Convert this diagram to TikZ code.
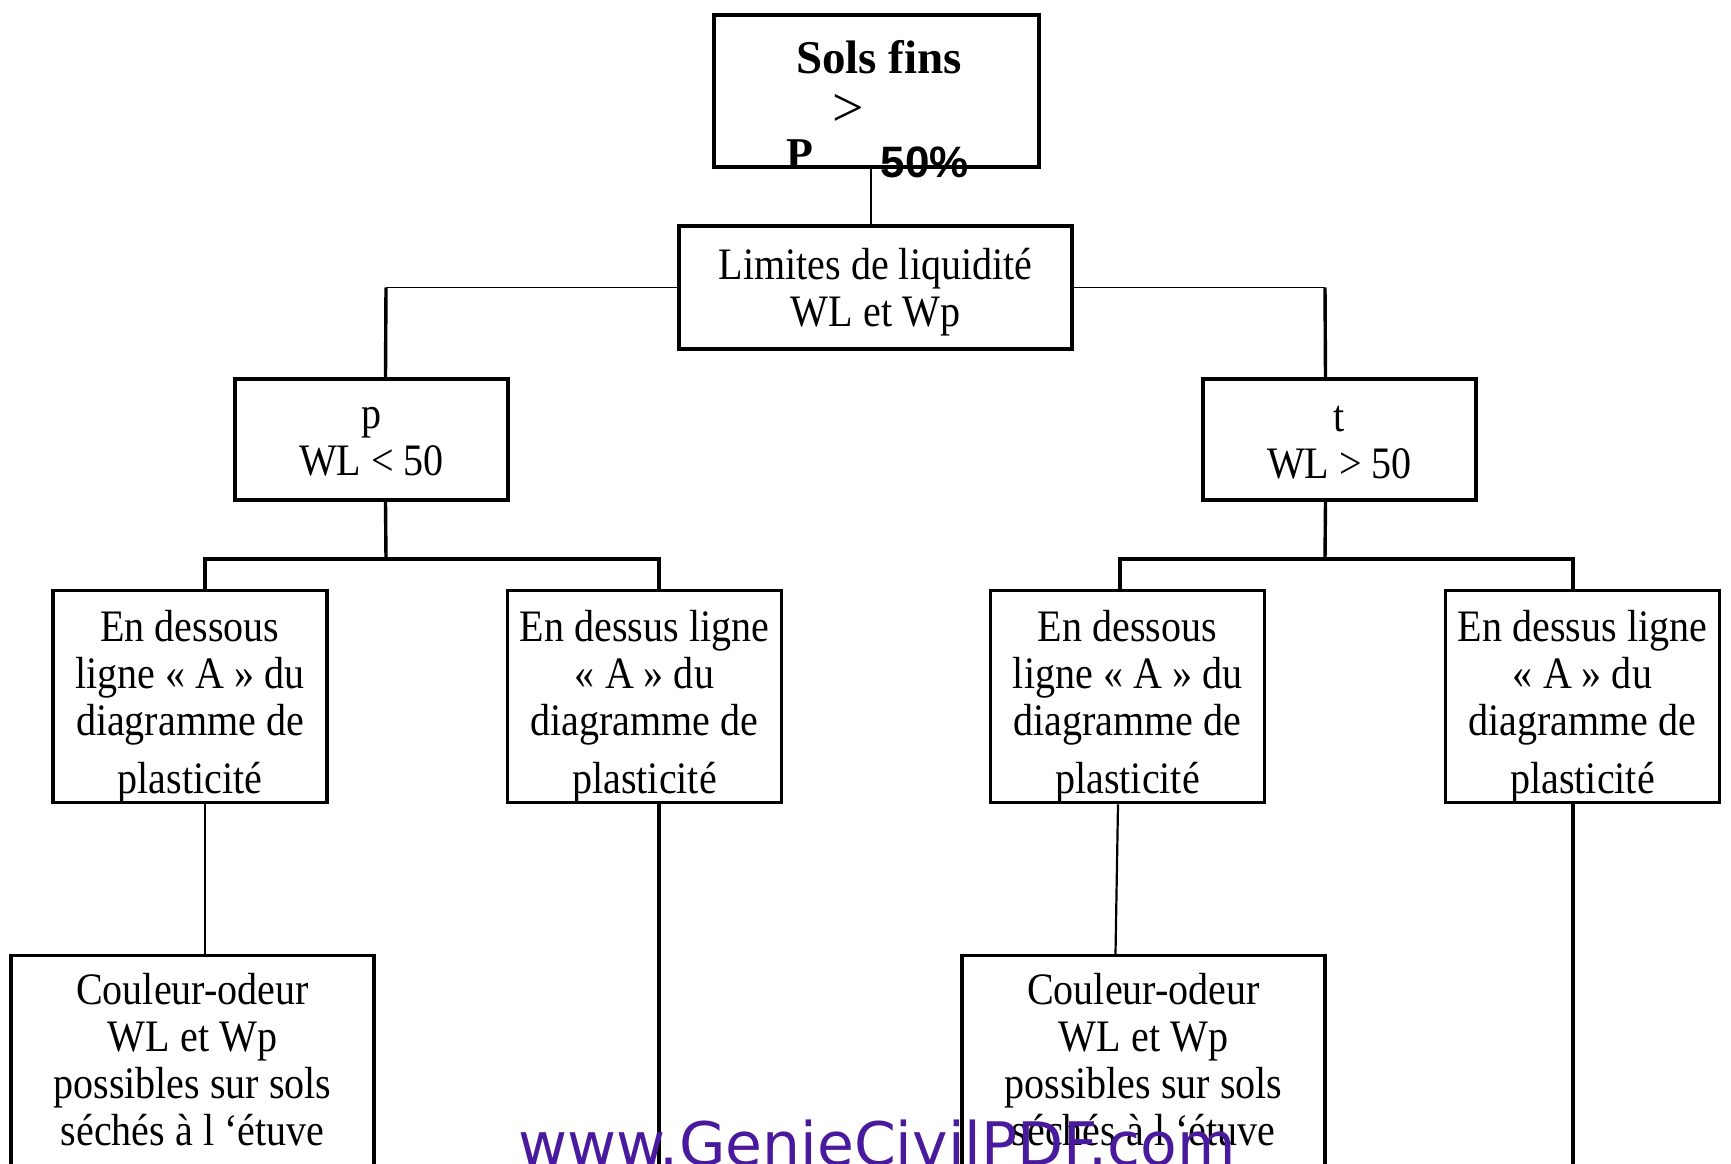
\documentclass[tikz,border=0pt]{standalone}
\usepackage{fontspec}
\setmainfont{Liberation Serif}[FakeStretch=0.89]
\newfontfamily\titlefont{Liberation Serif}
\newfontfamily\pctfont{Liberation Sans}
\newfontfamily\wmfont{DejaVu Sans}
\usetikzlibrary{calc}
\definecolor{wmcolor}{RGB}{74,26,158}

\tikzset{
  box/.style={draw, line width=1.6pt, inner sep=0pt, align=center},
  thinline/.style={line width=0.8pt},
  midline/.style={line width=1.1pt},
  thickline/.style={line width=1.7pt}
}
% strut to lower the first line of a box
\newcommand{\firstline}[1]{\rule{0pt}{#1}}

\begin{document}
\begin{tikzpicture}[x=0.5pt, y=-0.5pt, font=\fontsize{22.5}{23.5}\selectfont]
        \useasboundingbox (0,0) rectangle (1731,1163);
        \clip (0,0) rectangle (1731,1163);
        % top box
        \node[box, minimum width=162.5pt, minimum height=76pt] (top) at (876.5,91) {};
        \node[anchor=base] (solsfins) at (879,73) {\titlefont\bfseries\fontsize{23.5}{24}\selectfont Sols fins};
        \node[anchor=base] (gt) at (848,126) {\titlefont\fontsize{28}{28}\selectfont >};
        \node[anchor=base] (pp) at (800,168) {\titlefont\bfseries\fontsize{22}{22}\selectfont P};
        \node[anchor=base] (pct) at (925,177) {\pctfont\bfseries\fontsize{22}{22}\selectfont 50\%};
        % second level
        \node[box, minimum width=196.5pt, minimum height=61.5pt] (lim) at (875.5,287.5) {\firstline{20pt}Limites de liquidité\\ WL et Wp};
        \node[box, minimum width=136.5pt, minimum height=60.5pt] (p) at (371.5,439.5) {\firstline{13pt}p\\ WL < 50};
        \node[box, minimum width=136.5pt, minimum height=60.5pt] (t) at (1339.5,439.5) {\firstline{15.8pt}t\\ WL > 50};
        % third level
        \node[box, minimum width=137pt, minimum height=105.5pt] (A1) at (190,696.5) {\firstline{25.5pt}En dessous\\ ligne « A » du\\ diagramme de\\[5.5pt] plasticité};
        \node[box, minimum width=137pt, minimum height=105.5pt] (A2) at (644.5,696.5) {\firstline{25.5pt}En dessus ligne\\ « A » du\\ diagramme de\\[5.5pt] plasticité};
        \node[box, minimum width=137pt, minimum height=105.5pt] (B1) at (1127.5,696.5) {\firstline{25.5pt}En dessous\\ ligne « A » du\\ diagramme de\\[5.5pt] plasticité};
        \node[box, minimum width=137pt, minimum height=105.5pt] (B2) at (1582.5,696.5) {\firstline{25.5pt}En dessus ligne\\ « A » du\\ diagramme de\\[5.5pt] plasticité};
        % bottom level
        \node[box, anchor=north, minimum width=181.5pt, minimum height=108pt] (C1) at (192.5,954) {Couleur-odeur\\ WL et Wp\\ possibles sur sols\\ séchés à l ‘étuve\rule[-4pt]{0pt}{4pt}};
        \node[box, anchor=north, minimum width=181.5pt, minimum height=108pt] (C2) at (1143.5,954) {Couleur-odeur\\ WL et Wp\\ possibles sur sols\\ séchés à l ‘étuve\rule[-4pt]{0pt}{4pt}};
        % corners and free ends
        \coordinate (pk) at (386,287.5);
        \coordinate (tk) at (1325,287.5);
        \coordinate (pj) at (386,559);
        \coordinate (tj) at (1325,559);
        \coordinate (a2end) at (659,1200);
        \coordinate (b2end) at (1573,1200);
        % connectors
        \draw[thinline] ([xshift=-2.75pt]top.south) -- ([xshift=-2.25pt]lim.north);
        \draw[thinline] (lim.west) -- (pk);
        \draw[thickline] (pk) -- ([xshift=7pt]p.north);
        \draw[thinline] (lim.east) -- (tk);
        \draw[thickline] (tk) -- ([xshift=-7pt]t.north);
        \draw[thickline] ([xshift=7pt]p.south) -- (pj);
        \draw[thickline] ([xshift=7.5pt]A1.north) |- (pj) -| ([xshift=7.25pt]A2.north);
        \draw[thickline] ([xshift=-7pt]t.south) -- (tj);
        \draw[thickline] ([xshift=-3.75pt]B1.north) |- (tj) -| ([xshift=-4.75pt]B2.north);
        \draw[thinline] ([xshift=7.5pt]A1.south) -- ([xshift=6.25pt]C1.north);
        \draw[thickline] ([xshift=7.25pt]A2.south) -- (a2end);
        \draw[midline] ([xshift=-4.75pt]B1.south) -- ([xshift=-14pt]C2.north);
        \draw[thickline] ([xshift=-4.75pt]B2.south) -- (b2end);
        % watermark
        \node[anchor=base, text=wmcolor] (wm) at (877,1165) {\wmfont\fontsize{30}{30}\selectfont www.GenieCivilPDF.com};
\end{tikzpicture}
\end{document}
